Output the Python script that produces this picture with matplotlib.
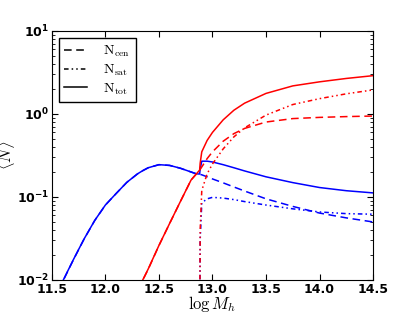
from matplotlib import pyplot as plt
import numpy as np

plt.rcParams["mathtext.fontset"] = "cm"

# halo mass grid (log M_h) and HOD occupation values
log_mh = [11.5, 11.6, 11.7, 11.8, 11.9, 12.0, 12.1, 12.2, 12.3, 12.35,
          12.4, 12.5, 12.6, 12.7, 12.8, 12.85, 12.88, 12.885, 12.9, 12.95,
          13.0, 13.1, 13.2, 13.3, 13.5, 13.75, 14.0, 14.25, 14.5]

blue_cen = [0.004, 0.0095, 0.0174, 0.031, 0.052, 0.080, 0.11, 0.15, 0.19, 0.208,
            0.225, 0.245, 0.24, 0.222, 0.20, 0.19, 0.188, 0.187, 0.185, 0.175,
            0.165, 0.148, 0.132, 0.118, 0.095, 0.077, 0.064, 0.056, 0.050]
blue_sat = [1e-4, 1e-4, 1e-4, 1e-4, 1e-4, 1e-4, 1e-4, 1e-4, 1e-4, 1e-4,
            1e-4, 1e-4, 1e-4, 1e-4, 1e-4, 1e-4, 1e-3, 0.03, 0.085, 0.095,
            0.099, 0.097, 0.093, 0.088, 0.080, 0.072, 0.066, 0.063, 0.062]

red_cen = [1e-4, 1e-4, 1e-4, 1e-4, 1e-4, 3e-4, 0.0012, 0.0025, 0.0065, 0.01,
           0.0135, 0.026, 0.048, 0.088, 0.16, 0.19, 0.21, 0.215, 0.23, 0.29,
           0.35, 0.47, 0.58, 0.67, 0.80, 0.88, 0.91, 0.93, 0.945]
red_sat = [1e-4, 1e-4, 1e-4, 1e-4, 1e-4, 1e-4, 1e-4, 1e-4, 1e-4, 1e-4,
           1e-4, 1e-4, 1e-4, 1e-4, 1e-4, 1e-4, 1e-3, 0.04, 0.12, 0.19,
           0.25, 0.38, 0.53, 0.68, 0.97, 1.3, 1.53, 1.75, 1.95]

x = np.array(log_mh)
samples = [
    ("b", np.array(blue_cen), np.array(blue_sat)),
    ("r", np.array(red_cen), np.array(red_sat)),
]

dashed = (0, (5, 3))
dashdot = (0, (3, 2, 1, 2, 1, 2))

fig = plt.figure(figsize=(4.15, 3.12), dpi=100)
ax = fig.add_axes([0.125, 0.1026, 0.774, 0.7981])

for color, cen, sat in samples:
    ax.plot(x, cen, color=color, linestyle=dashed, lw=1.1)
    ax.plot(x, sat, color=color, linestyle=dashdot, lw=1.1)
    ax.plot(x, cen + sat, color=color, linestyle="-", lw=1.1)

ax.set_yscale("log")
ax.set_xlim(11.5, 14.5)
ax.set_ylim(1e-2, 1e1)
ax.set_xticks([11.5, 12.0, 12.5, 13.0, 13.5, 14.0, 14.5])

ax.tick_params(which="both", direction="in", top=True, right=True, pad=2)
ax.tick_params(which="major", length=4)
ax.tick_params(which="minor", length=2)
for lab in ax.get_xticklabels() + ax.get_yticklabels():
    lab.set_fontweight("bold")
    lab.set_fontsize(9)

ax.set_xlabel(r"$\log M_h$", fontsize=12, labelpad=-1)
ax.set_ylabel(r"$\langle N \rangle$", fontsize=12, labelpad=0)

# legend with black proxy lines
h1, = ax.plot([], [], color="k", linestyle=dashed, lw=1.1)
h2, = ax.plot([], [], color="k", linestyle=dashdot, lw=1.1)
h3, = ax.plot([], [], color="k", linestyle="-", lw=1.1)
leg = ax.legend([h1, h2, h3],
                [r"$\rm N_{cen}$", r"$\rm N_{sat}$", r"$\rm N_{tot}$"],
                loc="upper left", fontsize=10, fancybox=False,
                framealpha=1, handlelength=1.6, handletextpad=1.2,
                borderpad=0.4, labelspacing=0.25, borderaxespad=0.5)
leg.get_frame().set_edgecolor("k")

plt.savefig("out.png", dpi=100)
